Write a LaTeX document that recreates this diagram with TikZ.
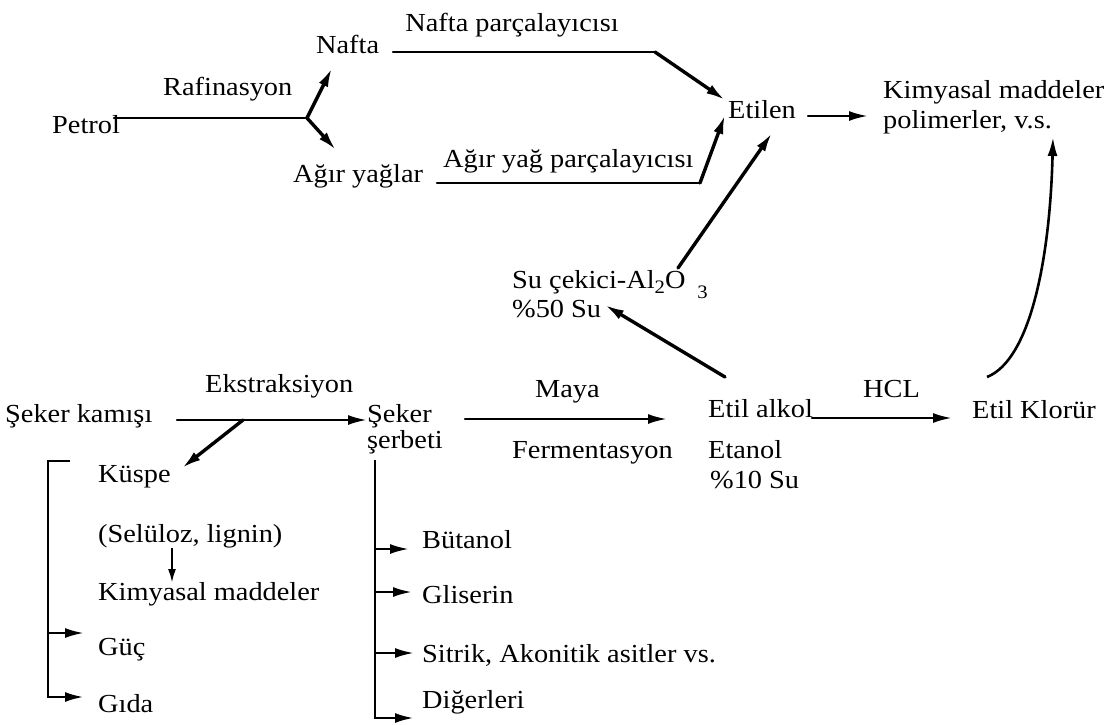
\documentclass[tikz,border=0pt]{standalone}
\usepackage{fontspec}
\setmainfont{Liberation Serif}[FakeStretch=1.09]
\usetikzlibrary{arrows.meta}
\newcommand\lblfont{\fontsize{26}{30}\selectfont}
\newcommand\subfont{\fontsize{19}{19}\selectfont}
\begin{document}
\begin{tikzpicture}[x=1pt,y=-1pt,
  lbl/.style={inner sep=0pt, anchor=base west, font=\lblfont},
  tip/.style={-{Latex[length=19pt,width=10pt]}},
  smalltip/.style={-{Latex[length=14pt,width=8pt]}},
  thinln/.style={line width=2.5pt, line cap=round},
  thickln/.style={line width=3.4pt, line cap=round},
  bracket/.style={line width=2.8pt, line join=miter}]
\useasboundingbox (0,0) rectangle (1114,724);

% ---------- petroleum route ----------
\node[lbl] (petrol) at (52,133) {Petrol};
\node[lbl] (rafin) at (163,95) {Rafinasyon};
\node[lbl] (nafta) at (316,53) {Nafta};
\node[lbl] (agir) at (293,182) {Ağır yağlar};
\node[lbl, anchor=base] (naftaparc) at (512,31) {Nafta parçalayıcısı};
\node[lbl] (agirparc) at (443,167) {Ağır yağ parçalayıcısı};
\node[lbl] (etilen) at (728,118) {Etilen};
\node[lbl] (kim1) at (883,98) {Kimyasal maddeler};
\node[lbl] (kim2) at (883,128) {polimerler, v.s.};

\coordinate (pstart) at (114,118);
\coordinate (pjoin) at (307,118);
\coordinate (naftatip) at (332,68);
\coordinate (agirtip) at (336,150);
\draw[thinln] (pstart) -- (pjoin);
\draw[thickln, tip] (pjoin) -- (naftatip);
\draw[thickln, tip] (pjoin) -- (agirtip);

\coordinate (naftaout) at (393,52);
\coordinate (naftabend) at (655,52);
\coordinate (etilenin1) at (725,100);
\draw[thinln] (naftaout) -- (naftabend);
\draw[thickln, tip] (naftabend) -- (etilenin1);

\coordinate (agirout) at (437,183);
\coordinate (agirbend) at (700,183);
\coordinate (etilenin2) at (725,115);
\draw[thinln] (agirout) -- (agirbend);
\draw[thickln, tip] (agirbend) -- (etilenin2);

\coordinate (etilenout) at (808,116);
\coordinate (kimin) at (868,116);
\draw[thinln, tip] (etilenout) -- (kimin);

% ---------- dehydration ----------
\node[lbl] (sucek) at (512,288) {Su çekici-Al\raisebox{-5pt}{\subfont 2}O\hspace{12pt}\raisebox{-10pt}{\subfont 3}};
\node[lbl] (su50) at (512,317) {\%50 Su};
\coordinate (sucekout) at (678,268);
\coordinate (etilenin3) at (772,133);
\draw[thickln, tip] (sucekout) -- (etilenin3);

% ---------- sugar cane route ----------
\node[lbl] (seker) at (5,422) {Şeker kamışı};
\node[lbl] (ekstr) at (205,392) {Ekstraksiyon};
\node[lbl] (serb1) at (367,422) {Şeker};
\node[lbl] (serb2) at (367,448) {şerbeti};
\node[lbl] (maya) at (535,397) {Maya};
\node[lbl] (ferm) at (512,458) {Fermentasyon};
\node[lbl] (etil) at (708,417) {Etil alkol};
\node[lbl] (etanol) at (708,458) {Etanol};
\node[lbl] (su10) at (710,488) {\%10 Su};
\node[lbl] (hcl) at (863,397) {HCL};
\node[lbl] (klorur) at (972,418) {Etil Klorür};

\coordinate (sekerout) at (177,420);
\coordinate (serbin) at (367,420);
\coordinate (ekstrsplit) at (243,420);
\coordinate (kuspein) at (182,468);
\draw[thinln, tip] (sekerout) -- (serbin);
\draw[thickln, tip] (ekstrsplit) -- (kuspein);

\coordinate (serbout) at (465,419);
\coordinate (etilin) at (667,419);
\draw[thinln, tip] (serbout) -- (etilin);

\coordinate (etilout) at (812,418);
\coordinate (klorin) at (952,418);
\draw[thinln, tip] (etilout) -- (klorin);

\coordinate (etilup) at (725,377);
\coordinate (su50in) at (605,305);
\draw[thickln, tip] (etilup) -- (su50in);

\coordinate (klorout) at (987,377);
\coordinate (kimin2) at (1053,137);
\draw[line width=2.6pt, tip] (klorout) .. controls (1030,360) and (1050,260) .. (kimin2);

% ---------- bagasse products ----------
\node[lbl] (kuspe) at (98,482) {Küspe};
\node[lbl] (selul) at (98,542) {(Selüloz, lignin)};
\node[lbl] (kimya) at (98,600) {Kimyasal maddeler};
\node[lbl] (guc) at (98,655) {Güç};
\node[lbl] (gida) at (98,712) {Gıda};

\coordinate (lbtop) at (70,461);
\coordinate (lbcorner) at (48,461);
\coordinate (lbbot) at (48,697);
\coordinate (gidain) at (84,697);
\coordinate (lbguc) at (48,633);
\coordinate (gucin) at (84,633);
\draw[bracket, tip] (lbtop) -- (lbcorner) -- (lbbot) -- (gidain);
\draw[thinln, tip] (lbguc) -- (gucin);

\coordinate (selulout) at (172,548);
\coordinate (kimyain) at (172,583);
\draw[line width=2.2pt, smalltip] (selulout) -- (kimyain);

% ---------- syrup by-products ----------
\node[lbl] (butanol) at (422,548) {Bütanol};
\node[lbl] (gliserin) at (422,603) {Gliserin};
\node[lbl] (sitrik) at (422,662) {Sitrik, Akonitik asitler vs.};
\node[lbl] (diger) at (422,708) {Diğerleri};

\coordinate (rbtop) at (375,460);
\coordinate (rbbot) at (375,718);
\coordinate (digerin) at (414,718);
\coordinate (rbbut) at (375,549);
\coordinate (butin) at (409,549);
\coordinate (rbgli) at (375,592);
\coordinate (gliin) at (412,592);
\coordinate (rbsit) at (375,653);
\coordinate (sitin) at (414,653);
\draw[bracket, tip] (rbtop) -- (rbbot) -- (digerin);
\draw[thinln, tip] (rbbut) -- (butin);
\draw[thinln, tip] (rbgli) -- (gliin);
\draw[thinln, tip] (rbsit) -- (sitin);
\end{tikzpicture}
\end{document}
